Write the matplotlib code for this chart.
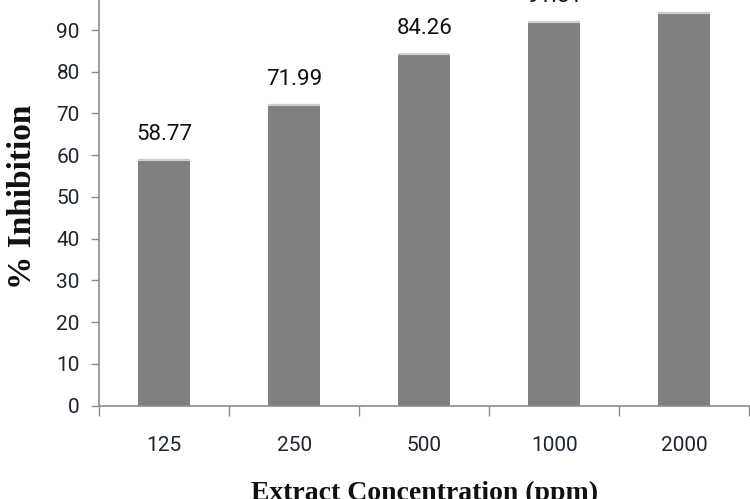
import matplotlib
matplotlib.use("Agg")
import matplotlib.pyplot as plt
import numpy as np

# data (2000 ppm label sits above the cropped top edge)
concentrations = ["125", "250", "500", "1000", "2000"]
inhibition = [58.77, 71.99, 84.26, 91.81, 94.10]
bar_labels = ["58.77", "71.99", "84.26", "91.81", "94.10"]
y_ticks = list(range(0, 101, 10))

BAR_COLOR = "#808080"
TOP_COLOR = "#cfcfcf"
AXIS_COLOR = "#8c8c8c"
TEXT_COLOR = "#1c2530"
SANS = ["Roboto", "DejaVu Sans"]
SERIF = ["Liberation Serif", "DejaVu Serif"]

fig = plt.figure(figsize=(7.5, 4.99), dpi=100)
# axes top goes past the figure edge on purpose: the reference is a crop
ax = fig.add_axes([0.1324, 0.187, 0.8669, 0.8365])

x = np.arange(len(concentrations))
bars = ax.bar(x, inhibition, width=0.4, color=BAR_COLOR, linewidth=0, zorder=2)
ax.hlines(inhibition, x - 0.2, x + 0.2, colors=TOP_COLOR, linewidth=1.6, zorder=3)

for xi, val, lab in zip(x, inhibition, bar_labels):
    ax.annotate(lab, (xi, val), xytext=(0, 11), textcoords="offset points",
                ha="center", va="bottom", fontsize=16, color="#111111",
                family=SANS, annotation_clip=False)

ax.set_xlim(-0.5, len(concentrations) - 0.5)
ax.set_ylim(0, 100)

# category boundaries carry the tick marks, labels go in the middle
ax.set_xticks(np.arange(len(concentrations) + 1) - 0.5)
ax.set_xticklabels([])
ax.set_xticks(x, minor=True)
ax.set_xticklabels(concentrations, minor=True, family=SANS, fontsize=15, color=TEXT_COLOR)
ax.tick_params(axis="x", which="major", length=7, width=1, color=AXIS_COLOR, direction="out")
ax.tick_params(axis="x", which="minor", length=0, pad=22)

ax.set_yticks(y_ticks)
ax.set_yticklabels([str(t) for t in y_ticks], family=SANS, fontsize=15, color=TEXT_COLOR)
ax.tick_params(axis="y", length=6, width=1, color=AXIS_COLOR, direction="out", pad=8)

for side in ["top", "right"]:
    ax.spines[side].set_visible(False)
for side in ["left", "bottom"]:
    ax.spines[side].set_color(AXIS_COLOR)
    ax.spines[side].set_linewidth(1.2)

ax.set_ylabel("% Inhibition", family=SERIF, fontweight="bold", fontsize=24, color="#111111")
ax.yaxis.set_label_coords(-0.094, 0.5)
ax.set_xlabel("Extract Concentration (ppm)", family=SERIF, fontweight="bold",
              fontsize=20, color="#111111", va="top")
ax.xaxis.set_label_coords(0.5, -0.18)

fig.savefig("out.png", dpi=100)
